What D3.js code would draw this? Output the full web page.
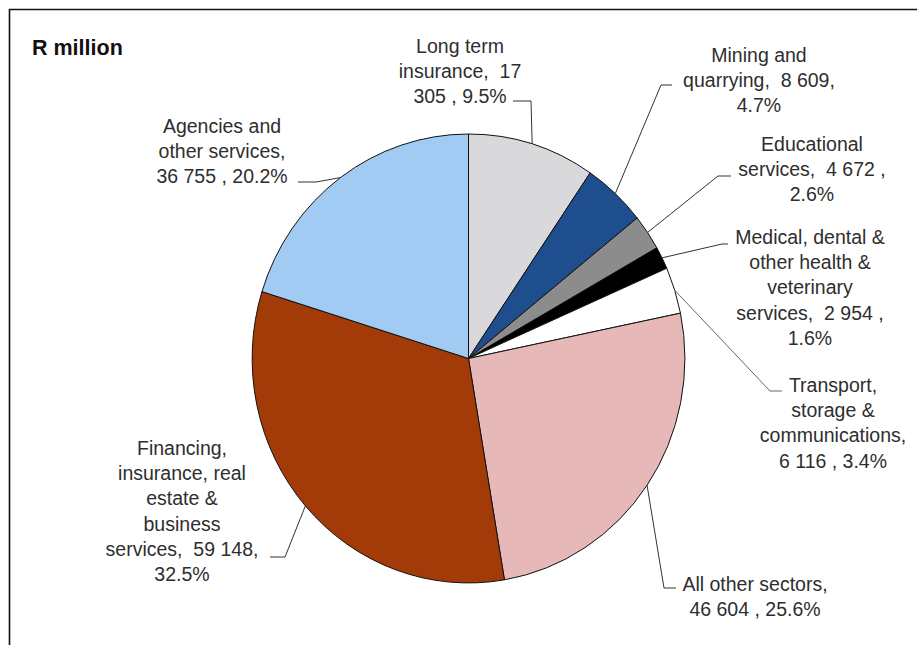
<!DOCTYPE html>
<html>
<head>
<meta charset="utf-8">
<script src="https://cdn.jsdelivr.net/npm/d3@7"></script>
<style>
  html, body { margin: 0; padding: 0; background: #fff; }
  svg { display: block; }
  text { white-space: pre; }
</style>
</head>
<body>
<svg id="chart" width="917" height="645"></svg>
<script>
// ---- data ----
const categories = [
  "Long term insurance",
  "Mining and quarrying",
  "Educational services",
  "Medical, dental & other health & veterinary services",
  "Transport, storage & communications",
  "All other sectors",
  "Financing, insurance, real estate & business services",
  "Agencies and other services"
];
const values = [17305, 8609, 4672, 2954, 6116, 46604, 59148, 36755];
const colors = ["#d9d9db", "#1f4e8e", "#8c8c8c", "#000000", "#ffffff", "#e6b9b8", "#a33b09", "#a2cbf4"];
const labelLines = [
  ["Long term", "insurance,  17", "305 , 9.5%"],
  ["Mining and", "quarrying,  8 609,", "4.7%"],
  ["Educational", "services,  4 672 ,", "2.6%"],
  ["Medical, dental &", "other health &", "veterinary", "services,  2 954 ,", "1.6%"],
  ["Transport,", "storage &", "communications,", "6 116 , 3.4%"],
  ["All other sectors,", "46 604 , 25.6%"],
  ["Financing,", "insurance, real", "estate &", "business", "services,  59 148,", "32.5%"],
  ["Agencies and", "other services,", "36 755 , 20.2%"]
];
const unitLabel = "R million";

// ---- layout (label placement, leader ticks) ----
const labelLayout = [
  { x: 460, y: 46,  tick: [[513, 101], [531, 101]] },
  { x: 759, y: 55,  tick: [[672, 85],  [661, 85]] },
  { x: 812, y: 144, tick: [[731, 176], [718, 176]] },
  { x: 810, y: 237, tick: [[728, 244], [722, 244]] },
  { x: 833, y: 385, tick: [[782, 391], [770, 391]] },
  { x: 755, y: 584, tick: [[676, 588], [664, 588]] },
  { x: 182, y: 448, tick: [[270, 557], [285, 557]] },
  { x: 222, y: 126, tick: [[298, 182], [316, 182]] }
];

const W = 917, H = 645;
const cx = 468.5, cy = 358.5, rx = 216.5, ry = 224.5;
const lineH = 25.2;

const svg = d3.select("#chart");

// frame (partially visible)
svg.append("line").attr("x1", 9).attr("y1", 9.5).attr("x2", W).attr("y2", 9.5)
  .attr("stroke", "#111").attr("stroke-width", 1.6);
svg.append("line").attr("x1", 9.5).attr("y1", 9).attr("x2", 9.5).attr("y2", H)
  .attr("stroke", "#111").attr("stroke-width", 1.6);

// unit label
svg.append("text").attr("x", 32).attr("y", 55)
  .attr("font-family", "Liberation Sans, Arial, sans-serif")
  .attr("font-weight", "bold").attr("font-size", 21.5).attr("fill", "#111")
  .text(unitLabel);

const data = categories.map((c, i) => ({ name: c, value: values[i], color: colors[i], lines: labelLines[i], layout: labelLayout[i] }));

const pie = d3.pie().value(d => d.value).sort(null);
const arcs = pie(data);
const arc = d3.arc().innerRadius(0).outerRadius(1);

const g = svg.append("g").attr("transform", `translate(${cx},${cy}) scale(${rx},${ry})`);
g.selectAll("path").data(arcs).join("path")
  .attr("d", arc)
  .attr("fill", d => d.data.color)
  .attr("stroke", "#111")
  .attr("stroke-width", 1)
  .attr("vector-effect", "non-scaling-stroke");

// leaders
const edgePoint = a => {
  const m = (a.startAngle + a.endAngle) / 2;
  return [cx + rx * Math.sin(m), cy - ry * Math.cos(m)];
};
const lineGen = d3.line();
svg.append("g").selectAll("path").data(arcs).join("path")
  .attr("d", a => lineGen([a.data.layout.tick[0], a.data.layout.tick[1], edgePoint(a)]))
  .attr("fill", "none")
  .attr("stroke", (a, i) => i === 4 ? "#666" : "#333")
  .attr("stroke-width", 1);

// labels
const lbl = svg.append("g")
  .attr("font-family", "Liberation Sans, Arial, sans-serif")
  .attr("font-size", 19.5)
  .attr("fill", "#2e2e2e")
  .attr("text-anchor", "middle");
arcs.forEach(a => {
  const L = a.data.layout;
  const t = lbl.append("text").attr("x", L.x).attr("y", L.y + 7);
  a.data.lines.forEach((s, j) => {
    t.append("tspan").attr("x", L.x).attr("y", L.y + 7 + j * lineH).text(s);
  });
});
</script>
</body>
</html>
